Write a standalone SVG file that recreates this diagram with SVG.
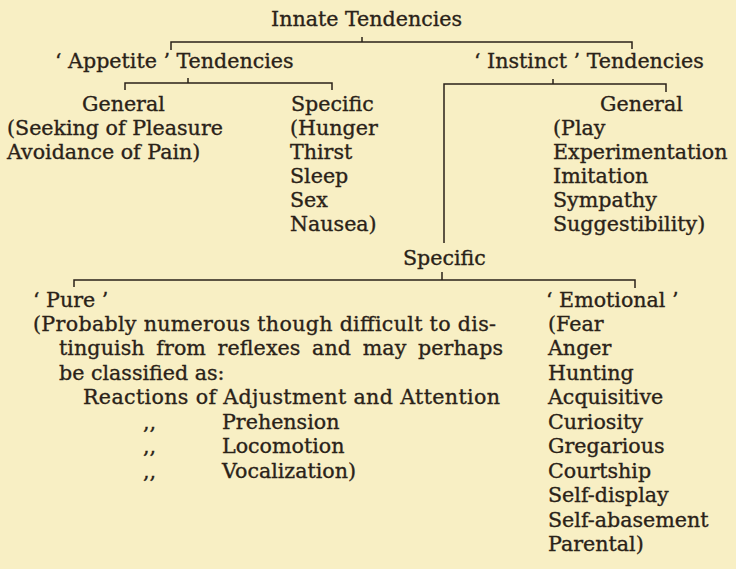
<svg xmlns="http://www.w3.org/2000/svg" width="736" height="569" viewBox="0 0 736 569">
<style>
text{font-family:"DejaVu Serif","Liberation Serif",serif;font-size:20.6px;fill:#2a2218;stroke:#2a2218;stroke-width:0.35}
.c line,.c path{stroke:#2a2218;stroke-width:1.5;fill:none}
</style>
<rect width="736" height="569" fill="#f8efc4"/>
<g class="c" id="connectors">
<path d="M171,50 V42 H632 V49"/><line x1="362" y1="42" x2="362" y2="37"/>
<path d="M125,90 V83 H332 V90"/><line x1="188" y1="83" x2="188" y2="78"/>
<path d="M444,243 V84 H666 V92"/><line x1="553" y1="84" x2="553" y2="79"/>
<path d="M74,287 V280 H635 V288"/><line x1="442" y1="280" x2="442" y2="272"/>
</g>
<g id="innate"><text x="271" y="26">Innate Tendencies</text></g>
<g id="appetite"><text x="55" y="68">‘ Appetite ’ Tendencies</text></g>
<g id="instinct"><text x="474" y="68">‘ Instinct ’ Tendencies</text></g>
<g id="appetite-general">
<text x="82" y="111">General</text>
<text x="7" y="135">(Seeking of Pleasure</text>
<text x="7" y="159">Avoidance of Pain)</text>
</g>
<g id="appetite-specific">
<text x="291" y="111">Specific</text>
<text x="290" y="135">(Hunger</text>
<text x="290" y="159">Thirst</text>
<text x="290" y="183">Sleep</text>
<text x="290" y="207">Sex</text>
<text x="290" y="231">Nausea)</text>
</g>
<g id="instinct-general">
<text x="600" y="111">General</text>
<text x="553" y="135">(Play</text>
<text x="553" y="159">Experimentation</text>
<text x="553" y="183">Imitation</text>
<text x="553" y="207">Sympathy</text>
<text x="553" y="231">Suggestibility)</text>
</g>
<g id="instinct-specific"><text x="403" y="265">Specific</text></g>
<g id="pure">
<text x="33" y="307">‘ Pure ’</text>
<text x="33" y="331" textLength="463" lengthAdjust="spacing">(Probably numerous though difficult to dis-</text>
<text x="59" y="355" word-spacing="5" textLength="444" lengthAdjust="spacing">tinguish from reflexes and may perhaps</text>
<text x="59" y="380">be classified as:</text>
<text x="83" y="404" textLength="417" lengthAdjust="spacing">Reactions of Adjustment and Attention</text>
<text x="143" y="429">,,</text><text x="222" y="429">Prehension</text>
<text x="143" y="453">,,</text><text x="222" y="453">Locomotion</text>
<text x="143" y="478">,,</text><text x="222" y="478">Vocalization)</text>
</g>
<g id="emotional">
<text x="546" y="307">‘ Emotional ’</text>
<text x="548" y="331">(Fear</text>
<text x="548" y="355">Anger</text>
<text x="548" y="380">Hunting</text>
<text x="548" y="404">Acquisitive</text>
<text x="548" y="429">Curiosity</text>
<text x="548" y="453">Gregarious</text>
<text x="548" y="478">Courtship</text>
<text x="548" y="502">Self-display</text>
<text x="548" y="527">Self-abasement</text>
<text x="548" y="551">Parental)</text>
</g>
</svg>
